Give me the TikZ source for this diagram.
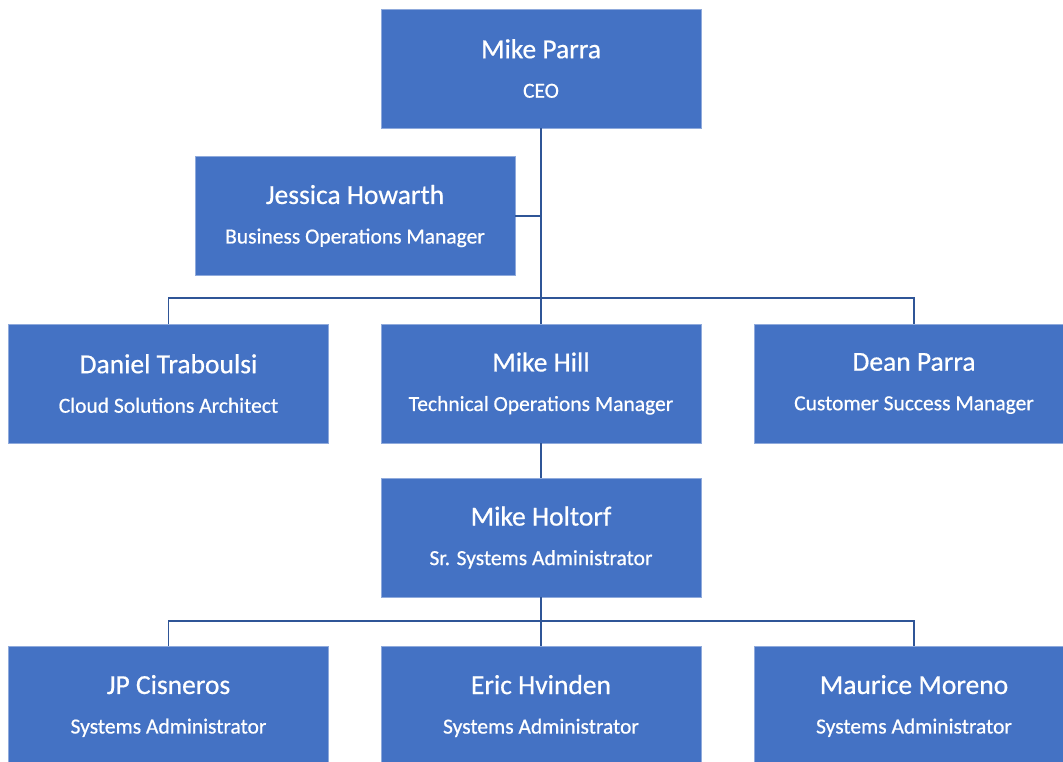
\documentclass[tikz,border=0pt]{standalone}
\usepackage{fontspec}
\setmainfont{Carlito}
\newfontfamily\orgfont[FakeBold=0.6]{Carlito}
\definecolor{boxblue}{HTML}{4472C4}
\definecolor{lineblue}{HTML}{2F5597}
\tikzset{
  orgbox/.style={fill=boxblue, draw=boxblue!60!white, line width=0.6pt, minimum width=320pt, minimum height=119pt,
    inner sep=0pt, text=white, align=center, font=\orgfont\fontsize{21.5}{39.5}\selectfont},
  conn/.style={draw=lineblue, line width=1.6pt}
}
\newcommand{\pname}[1]{{\fontsize{27.5}{39.5}\selectfont #1}}
\begin{document}
\begin{tikzpicture}[x=1pt,y=-1pt]
\useasboundingbox (0,0) rectangle (1063,761);
\clip (0,0) rectangle (1063,761);
\node[orgbox] (ceo) at (541,68.5) {\pname{Mike Parra}\\CEO};
\node[orgbox] (jess) at (355,216) {\pname{Jessica Howarth}\\Business Operations Manager};
\node[orgbox] (dan) at (168.5,383.5) {\pname{Daniel Traboulsi}\\Cloud Solutions Architect};
\node[orgbox] (hill) at (541,383.5) {\pname{Mike Hill}\\Technical Operations Manager};
\node[orgbox] (dean) at (914,383.5) {\pname{Dean Parra}\\Customer Success Manager};
\node[orgbox] (holt) at (541,537.5) {\pname{Mike Holtorf}\\Sr. Systems Administrator};
\node[orgbox] (jp) at (168.5,706) {\pname{JP Cisneros}\\Systems Administrator};
\node[orgbox] (eric) at (541,706) {\pname{Eric Hvinden}\\Systems Administrator};
\node[orgbox] (maur) at (914,706) {\pname{Maurice Moreno}\\Systems Administrator};
\coordinate (b1) at (541,298);
\coordinate (b2) at (541,621);
\draw[conn] (ceo.south) -- (hill.north);
\draw[conn] (jess.east) -- (jess.east -| ceo.south);
\draw[conn] (dan.north) |- (b1) -| (dean.north);
\draw[conn] (hill.south) -- (holt.north);
\draw[conn] (holt.south) -- (eric.north);
\draw[conn] (jp.north) |- (b2) -| (maur.north);
\end{tikzpicture}
\end{document}
